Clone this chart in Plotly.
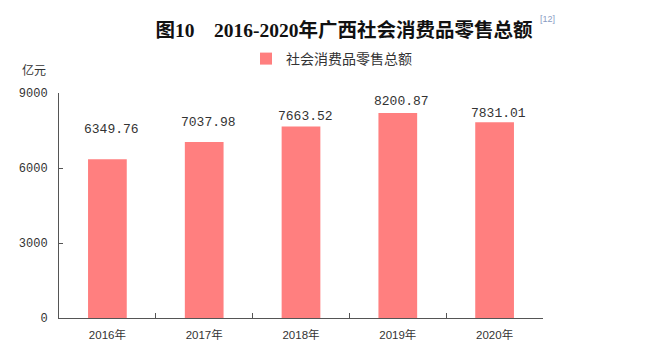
import plotly.graph_objects as go

categories = ["2016年", "2017年", "2018年", "2019年", "2020年"]
values = [6349.76, 7037.98, 7663.52, 8200.87, 7831.01]
series_name = "社会消费品零售总额"
y_ticks = [0, 3000, 6000, 9000]
unit_label = "亿元"
title_text = "图10\u30002016-2020年广西社会消费品零售总额"

# label styling offsets (pixels above bar tops, as in the reference)
label_yshift = [30, 20, 10, 11, 9]

BAR = "#FF7F7F"
AXIS = "#555555"
NUM_FONT = "Liberation Mono, Noto Sans CJK SC, monospace"
CJK_FONT = "Liberation Sans, Noto Sans CJK SC, sans-serif"

fig = go.Figure()
fig.add_trace(go.Bar(
    x=categories, y=values, name=series_name,
    marker=dict(color=BAR, line=dict(width=0)),
    showlegend=True,
))

annotations = []
for c, v, s in zip(categories, values, label_yshift):
    annotations.append(dict(
        x=c, y=v, xref="x", yref="y", text=f"{v:.2f}", showarrow=False,
        xanchor="center", yanchor="middle", yshift=s, xshift=4,
        font=dict(family=NUM_FONT, size=13, color="#333333"),
    ))
annotations.append(dict(
    x=34, y=70, text=unit_label, showarrow=False,
    xanchor="center", yanchor="middle",
    font=dict(family=CJK_FONT, size=12, color="#333333"),
))
annotations.append(dict(
    x=538, y=19, text="[12]", showarrow=False,
    xanchor="left", yanchor="middle",
    font=dict(family="Liberation Sans, sans-serif", size=9, color="#8A9CC4"),
))

W, H = 651, 359
L, R, T, B = 59, 108, 93, 41
pw, ph = W - L - R, H - T - B

def px_x(x):
    return (x - L) / pw

def px_y(y):
    return (H - B - y) / ph

for a in annotations:
    if a.get("xref") != "x":
        a["x"] = px_x(a["x"])
        a["y"] = px_y(a["y"])
        a["xref"] = "paper"
        a["yref"] = "paper"

fig.update_layout(
    width=W, height=H,
    margin=dict(l=L, r=R, t=T, b=B, autoexpand=False),
    paper_bgcolor="white", plot_bgcolor="white",
    bargap=0.6,
    title=dict(
        text=title_text, x=344 / W, xanchor="center", xref="container",
        y=1 - 30 / H, yanchor="middle", yref="container",
        font=dict(family="Liberation Serif, Noto Sans CJK SC, serif", size=19.5, color="#111111", weight="bold"),
    ),
    legend=dict(
        x=px_x(246), y=px_y(59), xanchor="left", yanchor="middle",
        orientation="h", bgcolor="rgba(0,0,0,0)",
        font=dict(family=CJK_FONT, size=14, color="#333333"),
    ),
    xaxis=dict(
        type="category", showline=True, linecolor=AXIS, linewidth=1,
        ticks="inside", tickson="boundaries", ticklen=5, tickcolor=AXIS,
        showgrid=False, zeroline=False,
        tickfont=dict(family=CJK_FONT, size=11.5, color="#333333"),
        ticklabelstandoff=6,
    ),
    yaxis=dict(
        range=[0, 9000], tickvals=y_ticks, showline=True, linecolor=AXIS, linewidth=1,
        ticks="inside", ticklen=4, tickcolor=AXIS, showgrid=False, zeroline=False,
        tickfont=dict(family=NUM_FONT, size=12, color="#333333"),
        ticklabelstandoff=8,
    ),
    annotations=annotations,
)

fig.write_html("out.html", config={"displayModeBar": False},
               post_script="document.body.style.margin='0';")
